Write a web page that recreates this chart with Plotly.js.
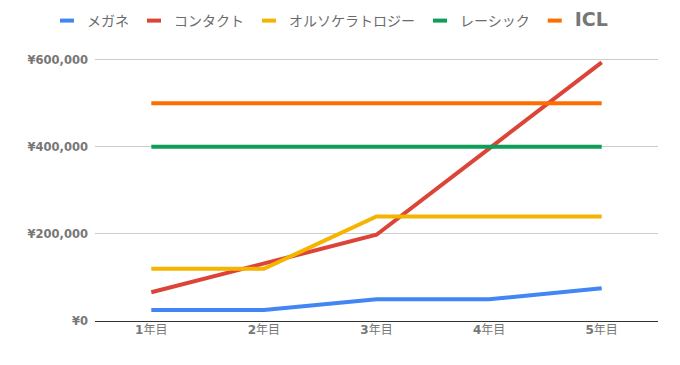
<!DOCTYPE html>
<html>
<head>
<meta charset="utf-8">
<script src="https://cdn.plot.ly/plotly-3.0.1.min.js"></script>
<style>html,body{margin:0;padding:0;background:#fff;}#chart{width:680px;height:365px;}</style>
</head>
<body>
<div id="chart"></div>
<script>
const categories = ["1年目", "2年目", "3年目", "4年目", "5年目"];
const tickLabels = ["<b>1</b>年目", "<b>2</b>年目", "<b>3</b>年目", "<b>4</b>年目", "<b>5</b>年目"];
const seriesNames = ["メガネ", "コンタクト", "オルソケラトロジー", "レーシック", "ICL"];
const megane = [25000, 25000, 50000, 50000, 75000];
const contact = [66000, 132000, 198000, 396000, 594000];
const ortho = [120000, 120000, 240000, 240000, 240000];
const lasik = [400000, 400000, 400000, 400000, 400000];
const icl = [500000, 500000, 500000, 500000, 500000];
const yTicks = [0, 200000, 400000, 600000];
const yTickLabels = ["¥0", "¥200,000", "¥400,000", "¥600,000"];

const colors = ["#4285F4", "#DB4437", "#F4B400", "#0F9D58", "#FF6D00"];
const series = [megane, contact, ortho, lasik, icl];

const lineTraces = series.map((vals, i) => ({
  type: "scatter",
  mode: "lines",
  x: categories,
  y: vals,
  name: seriesNames[i],
  showlegend: false,
  line: { color: colors[i], width: 4 },
  hoverinfo: "none"
}));

// legend-only entries with short line symbols
const legendTraces = seriesNames.map((nm, i) => ({
  type: "scatter",
  mode: "markers",
  x: [null],
  y: [null],
  name: i === 4
    ? '<span style="font-family:DejaVu Sans;font-weight:bold;font-size:19px;color:#777">' + nm + '</span>'
    : nm,
  showlegend: true,
  marker: { symbol: "line-ew", size: 10, color: colors[i], line: { color: colors[i], width: 4 } },
  hoverinfo: "none"
}));

const layout = {
  width: 680,
  height: 365,
  margin: { l: 95, r: 22, t: 50.6, b: 44 },
  paper_bgcolor: "#fff",
  plot_bgcolor: "#fff",
  showlegend: true,
  legend: {
    orientation: "h",
    xref: "container", yref: "container",
    x: 47 / 680, xanchor: "left",
    y: 1 - 21 / 365, yanchor: "middle",
    font: { family: "Noto Sans CJK JP, Liberation Sans, sans-serif", size: 14, color: "#6b6b6b" },
    itemwidth: 30,
    tracegroupgap: 0
  },
  xaxis: {
    type: "category",
    range: [-0.5, 4.5],
    tickvals: categories,
    ticktext: tickLabels,
    showgrid: false,
    zeroline: false,
    showline: false,
    ticks: "",
    tickfont: { family: "DejaVu Sans, Noto Sans CJK JP, sans-serif", size: 12, color: "#777" },
    fixedrange: true
  },
  yaxis: {
    range: [0, 620000],
    tickvals: yTicks,
    ticktext: yTickLabels.map(t => "<b>" + t + "</b>"),
    showgrid: true,
    gridcolor: "#cccccc",
    gridwidth: 1,
    zeroline: true,
    zerolinecolor: "#333333",
    zerolinewidth: 1,
    ticks: "",
    ticklabelstandoff: 6,
    tickfont: { family: "DejaVu Sans, sans-serif", size: 11.5, color: "#777" },
    fixedrange: true
  }
};

Plotly.newPlot("chart", lineTraces.concat(legendTraces), layout, { displayModeBar: false, staticPlot: true });
</script>
</body>
</html>
